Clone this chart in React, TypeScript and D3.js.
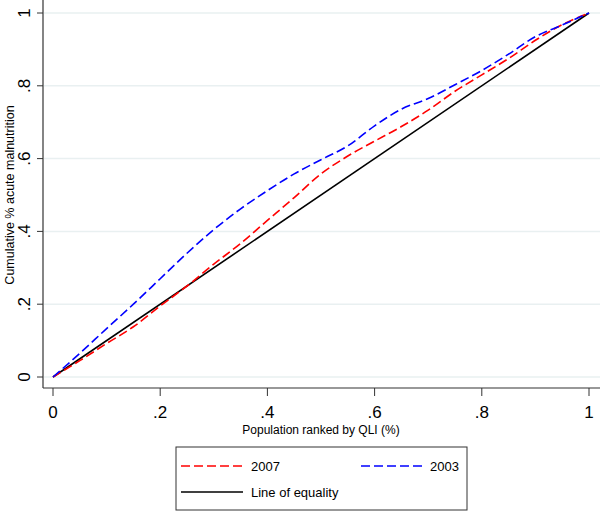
import React from "react";
import * as d3 from "d3";

const xs = [0, 0.05, 0.1, 0.15, 0.2, 0.25, 0.3, 0.35, 0.4, 0.45, 0.5, 0.55, 0.6, 0.65, 0.7, 0.75, 0.8, 0.85, 0.9, 0.95, 1];
const y2007 = [0, 0.045, 0.092, 0.138, 0.195, 0.25, 0.31, 0.367, 0.43, 0.493, 0.558, 0.607, 0.648, 0.688, 0.733, 0.785, 0.83, 0.875, 0.925, 0.968, 1];
const y2003 = [0, 0.065, 0.133, 0.2, 0.27, 0.34, 0.405, 0.462, 0.512, 0.558, 0.597, 0.635, 0.69, 0.736, 0.765, 0.803, 0.842, 0.887, 0.935, 0.967, 1];
const equality = [0, 1];
const tickValues = [0, 0.2, 0.4, 0.6, 0.8, 1];
const tickLabels = ["0", ".2", ".4", ".6", ".8", "1"];

const W = 600;
const H = 511;
const FONT = "'Liberation Sans', Arial, Helvetica, sans-serif";

export default function App() {
  const x = d3.scaleLinear().domain([0, 1]).range([53, 589]);
  const y = d3.scaleLinear().domain([0, 1]).range([377, 13]);
  const line = d3
    .line<[number, number]>()
    .x((d) => x(d[0]))
    .y((d) => y(d[1]))
    .curve(d3.curveMonotoneX);
  const red = line(xs.map((v, i) => [v, y2007[i]] as [number, number])) || "";
  const blue = line(xs.map((v, i) => [v, y2003[i]] as [number, number])) || "";
  const eq = line(equality.map((v) => [v, v] as [number, number])) || "";

  const axisX = 43;
  const axisY = 388;

  return (
    <div style={{ position: "absolute", left: 0, top: 0 }}>
      <svg width={W} height={H} style={{ display: "block", background: "#fff" }} fontFamily={FONT}>
        {tickValues.map((t) => (
          <line key={"g" + t} x1={axisX + 1} x2={W} y1={y(t)} y2={y(t)} stroke="#e9f0f1" strokeWidth={1.5} />
        ))}
        <line x1={axisX} x2={axisX} y1={0} y2={axisY} stroke="#333" strokeWidth={1.2} />
        <line x1={axisX} x2={W} y1={axisY} y2={axisY} stroke="#333" strokeWidth={1.2} />
        {tickValues.map((t, i) => (
          <g key={"yt" + t}>
            <line x1={axisX - 6} x2={axisX} y1={y(t)} y2={y(t)} stroke="#333" strokeWidth={1} />
            <text transform={`translate(30,${y(t)}) rotate(-90)`} textAnchor="middle" fontSize={17} fill="#000">
              {tickLabels[i]}
            </text>
          </g>
        ))}
        {tickValues.map((t, i) => (
          <g key={"xt" + t}>
            <line x1={x(t)} x2={x(t)} y1={axisY} y2={axisY + 8} stroke="#333" strokeWidth={1} />
            <text x={x(t)} y={418} textAnchor="middle" fontSize={17} fill="#000">
              {tickLabels[i]}
            </text>
          </g>
        ))}
        <text x={321} y={434} textAnchor="middle" fontSize={12} fill="#000">
          Population ranked by QLI (%)
        </text>
        <text transform={`translate(14,195) rotate(-90)`} textAnchor="middle" fontSize={12.5} fill="#000">
          Cumulative % acute malnutrition
        </text>
        <path d={eq} fill="none" stroke="#000" strokeWidth={1.6} />
        <path d={red} fill="none" stroke="#ff0000" strokeWidth={1.6} strokeDasharray="9 4" />
        <path d={blue} fill="none" stroke="#0000ff" strokeWidth={1.6} strokeDasharray="9 4" />
        <rect x={176} y={447} width={291} height={63} fill="#fff" stroke="#333" strokeWidth={1} />
        <line x1={181} x2={243} y1={466} y2={466} stroke="#ff0000" strokeWidth={1.6} strokeDasharray="9 4" />
        <text x={251} y={471} fontSize={13} fill="#000">2007</text>
        <line x1={361} x2={423} y1={466} y2={466} stroke="#0000ff" strokeWidth={1.6} strokeDasharray="9 4" />
        <text x={430} y={471} fontSize={13} fill="#000">2003</text>
        <line x1={181} x2={243} y1={492} y2={492} stroke="#000" strokeWidth={1.6} />
        <text x={251} y={497} fontSize={13} fill="#000">Line of equality</text>
      </svg>
    </div>
  );
}
